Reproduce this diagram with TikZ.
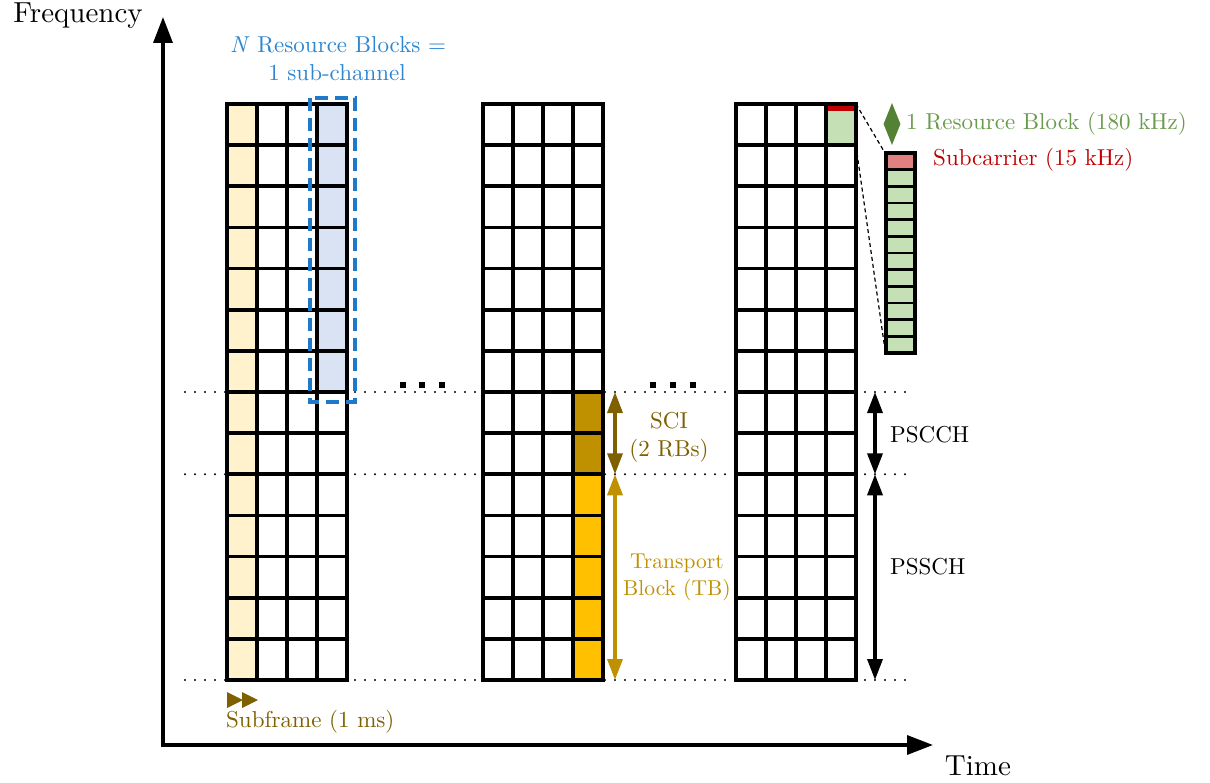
\documentclass[tikz,border=0pt]{standalone}
\usepackage{fontspec}
\setmainfont{lmroman10-regular}[Extension=.otf, ItalicFont=lmroman10-italic, BoldFont=lmroman10-bold]
\usetikzlibrary{arrows.meta,shapes.geometric}
\definecolor{paleyellow}{HTML}{FFF2CC}
\definecolor{paleblue}{HTML}{DAE3F3}
\definecolor{scifill}{HTML}{BF9000}
\definecolor{tbfill}{HTML}{FFC000}
\definecolor{scidark}{HTML}{7F6000}
\definecolor{tbdark}{HTML}{BF9000}
\definecolor{rbgreen}{HTML}{C5E0B4}
\definecolor{rbdark}{HTML}{548235}
\definecolor{rbtext}{HTML}{6A9A4C}
\definecolor{scred}{HTML}{C00000}
\definecolor{scpink}{HTML}{E08080}
\definecolor{subblue}{HTML}{1F78C8}
\definecolor{subtext}{HTML}{2E86D0}
\begin{document}
\begin{tikzpicture}[x=1pt,y=-1pt,
  font=\fontsize{23}{28}\selectfont,
  bigfont/.style={font=\fontsize{29}{34}\selectfont},
  gridline/.style={line width=3.6pt, line cap=rect},
  dotline/.style={line width=2.4pt, dash pattern=on 0pt off 10pt, line cap=round},
  axisline/.style={line width=3.4pt, {Triangle[length=26pt,width=19pt]}-{Triangle[length=26pt,width=19pt]}},
  dimarrow/.style={line width=3.4pt, {Triangle[length=21pt,width=15pt]}-{Triangle[length=21pt,width=15pt]}},
  txt/.style={inner sep=0pt, align=center}
]
\useasboundingbox (0,0) rectangle (1210,783);
\pgfmathsetmacro{\h}{576/14}

% dotted guide lines
\draw[dotline] (185,{104+7*\h}) -- (913,{104+7*\h});
\draw[dotline] (185,{104+9*\h}) -- (913,{104+9*\h});
\draw[dotline] (185,680) -- (913,680);

% fills
\fill[white] (227,104) rectangle (347,680);
\fill[white] (483,104) rectangle (603,680);
\fill[white] (736,104) rectangle (856,680);
\fill[paleyellow] (227,104) rectangle (257,680);
\fill[paleblue] (317,104) rectangle (347,{104+7*\h});
\fill[scifill] (573,{104+7*\h}) rectangle (603,{104+9*\h});
\fill[tbfill] (573,{104+9*\h}) rectangle (603,680);
\fill[rbgreen] (826,104) rectangle (856,{104+\h});
\fill[scred] (826,104) rectangle (856,111);

% grids
\foreach \gx in {227,483,736}{
  \foreach \i in {0,...,4}
    \draw[gridline] ({\gx+30*\i},104) -- ({\gx+30*\i},680);
  \foreach \j in {0,...,14}
    \draw[gridline] (\gx,{104+\j*\h}) -- ({\gx+120},{104+\j*\h});
}

% sub-channel dashed box
\draw[subblue, line width=3.2pt, dash pattern=on 13pt off 7pt] (310,98) rectangle (355,402);
\node[txt, text=subtext] (nrb) at (338,45) {\textit{N} Resource Blocks =};
\node[txt, text=subtext] (subch) at (337,73) {1 sub-channel};

% ellipsis dots
\foreach \x in {403,422,442,653,673,693}
  \fill (\x-2.8,382.2) rectangle (\x+2.8,387.8);

% axes
\coordinate (ytip) at (163,17);
\coordinate (org) at (163,745);
\coordinate (xtip) at (933,745);
\draw[axisline] (ytip) -- (org) -- (xtip);
\node[txt, bigfont, anchor=east] (freq) at (143,16) {Frequency};
\node[txt, bigfont] (time) at (978,766) {Time};

% subframe marker
\fill[scidark] (227,692) -- (243,700) -- (227,708) -- cycle;
\fill[scidark] (242,692) -- (258,700) -- (242,708) -- cycle;
\node[txt, text=scidark, anchor=west] (subf) at (226,722) {Subframe (1 ms)};

% SCI / TB arrows
\coordinate (sciT) at (615,{104+7*\h});
\coordinate (sciB) at (615,{104+9*\h});
\coordinate (tbB) at (615,680);
\draw[dimarrow, scidark] (sciT) -- (sciB);
\draw[dimarrow, tbdark] (sciB) -- (tbB);
\node[txt, text=scidark] (sci) at (669,437) {SCI\\(2 RBs)};
\node[txt, text=tbdark, font=\fontsize{21.5}{27}\selectfont, anchor=west] (tb) at (623,577) {Transport\\Block (TB)};

% PSCCH / PSSCH arrows
\coordinate (pcT) at (875,{104+7*\h});
\coordinate (pcB) at (875,{104+9*\h});
\coordinate (psB) at (875,680);
\draw[dimarrow] (pcT) -- (pcB);
\draw[dimarrow] (pcB) -- (psB);
\node[txt, anchor=west] (pscch) at (890,435) {PSCCH};
\node[txt, anchor=west] (pssch) at (890,567) {PSSCH};

% resource block zoom
\pgfmathsetmacro{\s}{200/12}
\fill[scpink] (886,153) rectangle (915,{153+\s});
\fill[rbgreen] (886,{153+\s}) rectangle (915,353);
\foreach \j in {0,...,12}
  \draw[line width=2.8pt] (886,{153+\j*\s}) -- (915,{153+\j*\s});
\draw[line width=3.2pt] (886,153) rectangle (915,353);
\coordinate (rbTR) at (856,104);
\coordinate (rbBR) at (856,146);
\coordinate (stTL) at (885,153);
\coordinate (stBL) at (885,350);
\draw[line width=1.2pt, dash pattern=on 4pt off 3pt] (rbTR) -- (stTL);
\draw[line width=1.2pt, dash pattern=on 4pt off 3pt] (rbBR) -- (stBL);
\node[diamond, fill=rbdark, minimum width=17pt, minimum height=42pt, inner sep=0pt, aspect=0.4] (dia) at (892,124) {};
\node[txt, text=rbtext, anchor=west] (rbl) at (906,124) {1 Resource Block (180 kHz)};
\node[txt, text=scred, anchor=west] (scl) at (933,160) {Subcarrier (15 kHz)};
\end{tikzpicture}
\end{document}
